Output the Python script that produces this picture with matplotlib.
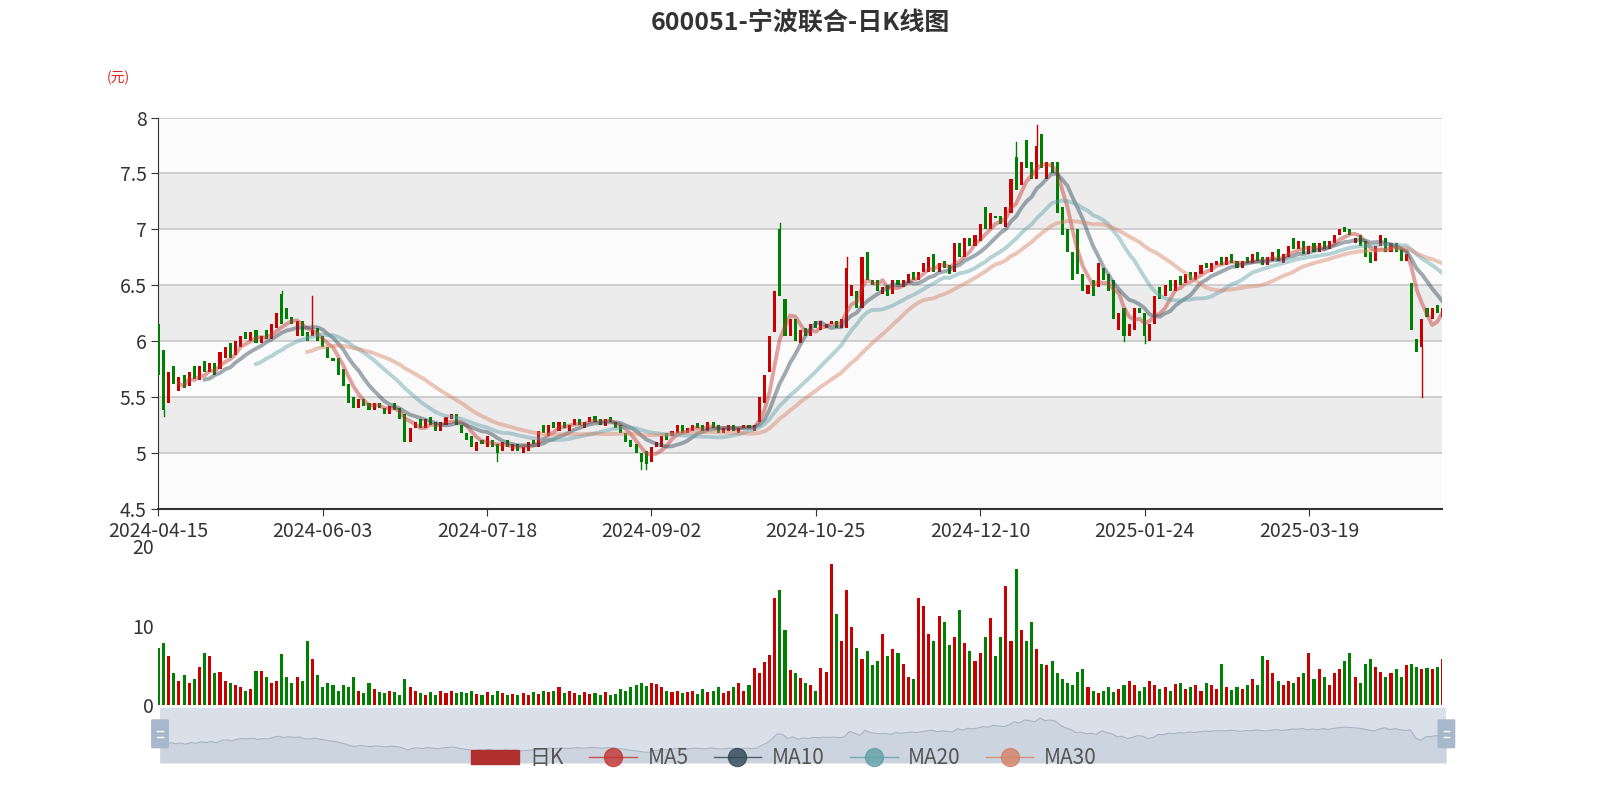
import numpy as np
import pandas as pd
import matplotlib
matplotlib.use('Agg')
import matplotlib.pyplot as plt
from matplotlib.patches import Rectangle, FancyBboxPatch
from matplotlib.lines import Line2D

plt.rcParams['font.family'] = ['Noto Sans CJK SC', 'DejaVu Sans']

holidays = ['2024-05-01', '2024-05-02', '2024-05-03', '2024-06-10', '2024-09-16', '2024-09-17',
            '2024-10-01', '2024-10-02', '2024-10-03', '2024-10-04', '2024-10-07', '2025-01-01',
            '2025-01-28', '2025-01-29', '2025-01-30', '2025-01-31', '2025-02-03', '2025-02-04',
            '2025-04-04']
days = pd.bdate_range('2024-04-15', '2025-04-30')
days = [d.strftime('%Y-%m-%d') for d in days if d.strftime('%Y-%m-%d') not in holidays]

closes = [
    5.70, 5.38, 5.72, 5.62, 5.68, 5.58, 5.72, 5.66, 5.78, 5.72,
    5.80, 5.70, 5.90, 5.95, 5.85, 6.00, 6.05, 6.02, 6.08, 5.98,
    6.05, 6.02, 6.15, 6.25, 6.15, 6.20, 6.15, 6.18, 6.05, 6.00,
    6.10, 6.00, 5.95, 5.85, 5.82, 5.70, 5.60, 5.45, 5.40, 5.48,
    5.42, 5.38, 5.45, 5.40, 5.35, 5.42, 5.38, 5.30, 5.10, 5.22,
    5.28, 5.22, 5.30, 5.25, 5.20, 5.28, 5.32, 5.35, 5.25, 5.18,
    5.12, 5.05, 5.10, 5.08, 5.15, 5.05, 5.00, 5.10, 5.05, 5.08,
    5.02, 5.05, 5.10, 5.08, 5.20, 5.18, 5.25, 5.22, 5.28, 5.22,
    5.25, 5.30, 5.25, 5.28, 5.32, 5.28, 5.25, 5.30, 5.28, 5.22,
    5.18, 5.10, 5.05, 5.00, 4.92, 4.90, 5.05, 5.10, 5.15, 5.12,
    5.20, 5.25, 5.18, 5.22, 5.25, 5.22, 5.20, 5.28, 5.22, 5.18,
    5.22, 5.25, 5.20, 5.22, 5.25, 5.22, 5.25, 5.50, 5.70, 6.05,
    6.45, 6.40, 6.05, 6.20, 6.00, 6.10, 6.05, 6.15, 6.12, 6.18,
    6.15, 6.18, 6.12, 6.20, 6.65, 6.50, 6.30, 6.75, 6.55, 6.50,
    6.45, 6.48, 6.40, 6.55, 6.50, 6.55, 6.60, 6.55, 6.62, 6.70,
    6.75, 6.62, 6.70, 6.65, 6.60, 6.88, 6.75, 6.92, 6.85, 6.95,
    7.05, 7.00, 7.15, 7.10, 7.05, 7.20, 7.45, 7.35, 7.60, 7.55,
    7.45, 7.75, 7.55, 7.60, 7.50, 7.15, 6.95, 6.80, 6.55, 6.60,
    6.45, 6.50, 6.40, 6.70, 6.55, 6.45, 6.20, 6.25, 6.05, 6.15,
    6.30, 6.25, 6.05, 6.15, 6.40, 6.38, 6.50, 6.45, 6.55, 6.50,
    6.60, 6.55, 6.62, 6.68, 6.65, 6.70, 6.72, 6.68, 6.75, 6.70,
    6.65, 6.72, 6.70, 6.78, 6.72, 6.68, 6.75, 6.80, 6.72, 6.78,
    6.85, 6.82, 6.90, 6.78, 6.85, 6.80, 6.88, 6.82, 6.90, 6.95,
    7.00, 6.98, 6.95, 6.92, 6.85, 6.75, 6.70, 6.85, 6.95, 6.80,
    6.88, 6.80, 6.72, 6.78, 6.10, 5.90, 6.20, 6.22, 6.30, 6.25, 6.30,
]
opens = [
    6.15, 5.92, 5.45, 5.78, 5.55, 5.70, 5.60, 5.78, 5.65, 5.82,
    5.72, 5.80, 5.75, 5.85, 5.98, 5.88, 5.95, 6.08, 6.00, 6.10,
    5.98, 6.10, 6.02, 6.12, 6.42, 6.30, 6.22, 6.05, 6.18, 6.08,
    6.05, 6.12, 6.05, 5.95, 5.85, 5.85, 5.75, 5.62, 5.50, 5.40,
    5.48, 5.45, 5.38, 5.45, 5.40, 5.35, 5.45, 5.40, 5.35, 5.10,
    5.22, 5.30, 5.22, 5.32, 5.28, 5.20, 5.25, 5.30, 5.35, 5.25,
    5.18, 5.15, 5.02, 5.12, 5.05, 5.12, 5.08, 5.02, 5.12, 5.02,
    5.08, 5.00, 5.02, 5.12, 5.05, 5.25, 5.15, 5.28, 5.20, 5.28,
    5.20, 5.25, 5.30, 5.22, 5.28, 5.33, 5.30, 5.24, 5.32, 5.28,
    5.25, 5.18, 5.12, 5.08, 5.00, 5.02, 4.92, 5.05, 5.05, 5.18,
    5.15, 5.18, 5.25, 5.18, 5.20, 5.27, 5.25, 5.20, 5.28, 5.25,
    5.18, 5.20, 5.25, 5.18, 5.22, 5.25, 5.20, 5.28, 5.45, 5.72,
    6.08, 7.00, 6.38, 6.05, 6.20, 5.98, 6.12, 6.05, 6.18, 6.10,
    6.12, 6.15, 6.18, 6.12, 6.12, 6.40, 6.45, 6.30, 6.80, 6.55,
    6.55, 6.42, 6.50, 6.42, 6.55, 6.48, 6.52, 6.62, 6.55, 6.62,
    6.62, 6.78, 6.62, 6.72, 6.68, 6.62, 6.88, 6.75, 6.92, 6.85,
    6.90, 7.20, 7.00, 7.12, 7.12, 7.02, 7.15, 7.65, 7.40, 7.80,
    7.60, 7.45, 7.85, 7.45, 7.60, 7.60, 7.20, 7.00, 6.80, 7.00,
    6.60, 6.42, 6.55, 6.48, 6.65, 6.60, 6.55, 6.10, 6.30, 6.05,
    6.10, 6.30, 6.25, 6.00, 6.15, 6.48, 6.40, 6.55, 6.45, 6.58,
    6.52, 6.62, 6.55, 6.60, 6.70, 6.62, 6.68, 6.75, 6.68, 6.78,
    6.72, 6.65, 6.75, 6.70, 6.80, 6.75, 6.68, 6.72, 6.82, 6.70,
    6.75, 6.92, 6.82, 6.90, 6.78, 6.88, 6.80, 6.90, 6.82, 6.88,
    6.95, 7.02, 7.00, 6.88, 6.95, 6.90, 6.80, 6.72, 6.85, 6.92,
    6.80, 6.88, 6.82, 6.72, 6.52, 6.02, 5.95, 6.30, 6.20, 6.32, 6.22,
]
# only the wicks that stand out in the picture
wick_high = {24: 6.45, 30: 6.40, 121: 7.06, 134: 6.75, 171: 7.93, 167: 7.78}
wick_low = {1: 5.33, 66: 4.93, 94: 4.86, 95: 4.86, 188: 6.00, 192: 5.98, 246: 5.50}
volumes = [
    7.2, 7.8, 6.2, 4.0, 3.0, 3.8, 2.8, 3.2, 4.8, 6.5,
    6.2, 4.0, 4.2, 3.0, 2.8, 2.5, 2.3, 1.8, 2.0, 4.3,
    4.3, 3.5, 2.8, 3.0, 6.4, 3.5, 2.8, 3.5, 3.0, 8.1,
    5.8, 3.8, 2.2, 2.8, 2.5, 1.8, 2.5, 2.2, 3.5, 1.8,
    1.5, 2.8, 2.0, 1.6, 1.5, 1.8, 1.6, 1.2, 3.3, 2.2,
    1.8, 1.5, 1.2, 1.6, 1.3, 1.8, 1.5, 1.7, 1.5, 1.6,
    1.5, 1.8, 1.4, 1.2, 1.6, 1.3, 1.8, 1.5, 1.2, 1.4,
    1.2, 1.5, 1.3, 1.6, 1.4, 1.8, 1.6, 1.7, 2.2, 1.5,
    1.8, 1.5, 1.3, 1.6, 1.4, 1.5, 1.2, 1.6, 1.3, 1.4,
    2.0, 1.8, 2.2, 2.5, 2.8, 2.4, 2.8, 2.6, 2.2, 1.8,
    1.6, 1.8, 1.5, 1.6, 1.8, 1.4, 2.0, 1.6, 1.8, 2.2,
    1.5, 1.8, 2.2, 2.8, 1.8, 2.5, 4.6, 4.0, 5.4, 6.3,
    13.5, 14.5, 9.5, 4.4, 4.0, 3.4, 2.8, 2.5, 1.8, 4.7,
    4.2, 17.8, 11.5, 8.0, 14.5, 9.8, 7.2, 5.8, 6.8, 5.0,
    5.5, 9.0, 6.2, 7.0, 6.5, 5.2, 3.5, 3.3, 13.5, 12.5,
    9.0, 8.0, 11.2, 10.5, 7.5, 8.5, 12.0, 7.8, 6.8, 5.5,
    6.5, 8.5, 11.0, 6.2, 8.5, 15.0, 8.0, 17.2, 9.5, 8.0,
    10.5, 7.0, 5.2, 5.0, 5.5, 4.0, 3.2, 2.8, 2.5, 4.2,
    4.5, 2.3, 1.8, 1.5, 1.8, 2.2, 1.6, 2.0, 2.5, 3.0,
    2.5, 1.8, 2.2, 3.0, 2.5, 2.0, 2.3, 1.8, 2.6, 2.8,
    2.0, 2.2, 2.5, 1.8, 2.8, 2.5, 2.0, 5.2, 2.2, 1.9,
    2.3, 2.0, 2.5, 3.2, 2.5, 6.2, 5.6, 4.0, 3.0, 2.5,
    3.0, 2.8, 3.5, 4.0, 6.5, 3.2, 4.5, 3.5, 2.5, 4.0,
    4.5, 5.5, 6.5, 3.5, 2.8, 5.2, 5.8, 4.8, 4.2, 3.5,
    4.0, 4.5, 3.5, 5.0, 5.2, 4.8, 4.5, 4.6, 4.5, 4.8, 5.8,
]

n = len(closes)
days = days[:n]
x = np.arange(n)
c = np.array(closes)
o = np.array(opens)
up = c >= o
RED, GREEN = '#c80000', '#008000'

fig = plt.figure(figsize=(16, 8), dpi=100)
fig.patch.set_facecolor('white')
ax = fig.add_axes([0.099, 0.364, 0.8025, 0.489])
axv = fig.add_axes([0.099, 0.119, 0.8025, 0.198])
axs = fig.add_axes([0.1, 0.046, 0.804, 0.069])

# price pane
ax.set_xlim(0, n - 1)
ax.set_ylim(4.5, 8)
for k, lo in enumerate(np.arange(4.5, 8, 0.5)):
    ax.axhspan(lo, lo + 0.5, color='#ececec' if k % 2 == 1 else '#fbfbfb', zorder=0, lw=0)
for yv in np.arange(5, 8.01, 0.5):
    ax.axhline(yv, color='#c8c8c8', lw=1.2, zorder=1)

for i in range(n):
    col = RED if up[i] else GREEN
    lo, hi = min(o[i], c[i]), max(o[i], c[i])
    if i in wick_high:
        ax.plot([i, i], [hi, wick_high[i]], color=col, lw=1, zorder=3)
    if i in wick_low:
        ax.plot([i, i], [wick_low[i], lo], color=col, lw=1, zorder=3)
    ax.add_patch(Rectangle((i - 0.3, lo), 0.6, max(hi - lo, 0.01), color=col, zorder=3, lw=0))

ma_cols = {5: '#c23531', 10: '#2f4554', 20: '#61a0a8', 30: '#d48265'}
for p, col in ma_cols.items():
    ma = pd.Series(c).rolling(p).mean()
    ax.plot(x, ma, color=col, lw=2.8, alpha=0.45, zorder=4)

ax.set_xticks(np.arange(0, n, 32))
ax.set_xticklabels([days[i] for i in range(0, n, 32)], fontsize=14, color='#333')
ax.set_yticks(np.arange(4.5, 8.01, 0.5))
ax.set_yticklabels(['4.5', '5', '5.5', '6', '6.5', '7', '7.5', '8'], fontsize=14, color='#333')
ax.tick_params(length=5, color='#333')
for s in ['top', 'right']:
    ax.spines[s].set_visible(False)
ax.spines['left'].set_color('#333')
ax.spines['bottom'].set_color('#333')
ax.spines['bottom'].set_linewidth(1.5)

# volume pane
axv.bar(x, volumes, width=0.6, color=[RED if u else GREEN for u in up])
axv.set_xlim(0, n - 1)
axv.set_ylim(0, 20)
axv.set_yticks([0, 10, 20])
axv.set_yticklabels(['0', '10', '20'], fontsize=14, color='#333')
axv.set_xticks([])
axv.tick_params(length=0)
for s in ['top', 'right', 'bottom', 'left']:
    axv.spines[s].set_visible(False)
axv.set_facecolor('none')

# data zoom slider
axs.set_xlim(0, n - 1)
axs.set_ylim(4.0, 8.6)
axs.add_patch(Rectangle((0, 4.0), n - 1, 4.6, color='#d5dde8', alpha=0.9, lw=0))
axs.fill_between(x, 4.0, c, color='#c4ccd8', alpha=0.6, lw=0)
axs.plot(x, c, color='#a9b3c3', lw=0.8)
for hx in [0, n - 1]:
    axs.add_patch(FancyBboxPatch((hx - 1.5, 5.4), 3, 2.1, boxstyle='round,pad=0.1',
                                 color='#a7b7cc', zorder=5, clip_on=False))
    axs.plot([hx - 0.5, hx + 0.5], [6.2, 6.2], color='white', lw=1, zorder=6, clip_on=False)
    axs.plot([hx - 0.5, hx + 0.5], [6.7, 6.7], color='white', lw=1, zorder=6, clip_on=False)
axs.axis('off')

fig.text(0.5, 0.972, '600051-宁波联合-日K线图', ha='center', va='center',
         fontsize=18, fontweight='bold', color='#333')
fig.text(0.074, 0.903, '(元)', ha='center', va='center', fontsize=10, color='#e02020')

handles = [Rectangle((0, 0), 1, 1, color='#b03030')]
for p, col in ma_cols.items():
    handles.append(Line2D([0], [0], color=col, lw=1, marker='o', markersize=13,
                          markerfacecolor=col, alpha=0.8))
leg = fig.legend(handles, ['日K', 'MA5', 'MA10', 'MA20', 'MA30'], loc='center',
                 bbox_to_anchor=(0.49, 0.052), ncol=5, frameon=False, fontsize=15,
                 handlelength=2.3, columnspacing=1.2, handletextpad=0.5)
for t in leg.get_texts():
    t.set_color('#555')

fig.savefig('out.png', dpi=100)
